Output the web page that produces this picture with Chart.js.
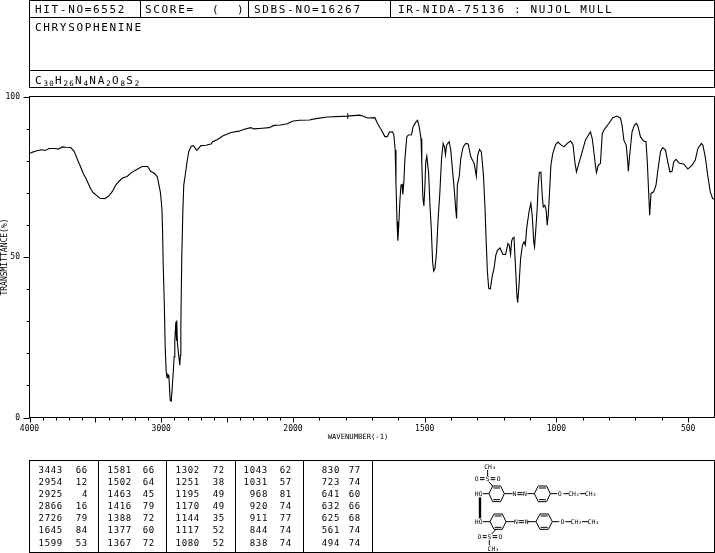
<!DOCTYPE html>
<html>
<head>
<meta charset="utf-8">
<title>CHRYSOPHENINE IR</title>
<script src="https://cdn.jsdelivr.net/npm/chart.js@4/dist/chart.umd.min.js"></script>
<style>
  html, body { margin: 0; padding: 0; background: #fff; overflow: hidden; }
  #page { position: relative; width: 715px; height: 553px; }
  #chart { position: absolute; left: 0; top: 0; }
  .t { position: absolute; white-space: pre; color: #000; line-height: 1;
       font-family: "DejaVu Sans Mono", monospace; font-size: 11px; letter-spacing: 1.66px; }
  .t sub { font-size: 7.5px; letter-spacing: 1.2px; vertical-align: baseline; position: relative; top: 2px; }
  .p { position: absolute; white-space: pre; color: #000; line-height: 1; text-align: right; width: 30px;
       font-family: "DejaVu Sans Mono", monospace; font-size: 9px; letter-spacing: 0.7px; }
  .r { position: absolute; background: #000; }
  #mol { position: absolute; left: 0; top: 0; }
  #mol text { font-family: "DejaVu Sans Mono", monospace; font-size: 19px; text-anchor: middle; dominant-baseline: central; }
  #mol path { fill: none; stroke: #000; stroke-width: 3; }
</style>
</head>
<body>
<div id="page">
  <canvas id="chart" width="715" height="553"></canvas>
  <div class="t" style="left:35px;top:4px">HIT-NO=6552</div>
  <div class="t" style="left:145px;top:4px">SCORE=</div>
  <div class="t" style="left:212px;top:4px">(</div>
  <div class="t" style="left:237px;top:4px">)</div>
  <div class="t" style="left:254px;top:4px">SDBS-NO=16267</div>
  <div class="t" style="left:398px;top:4px">IR-NIDA-75136 : NUJOL MULL</div>
  <div class="t" style="left:35px;top:22px">CHRYSOPHENINE</div>
  <div class="t" style="left:35px;top:75px;letter-spacing:1.9px">C<sub>30</sub>H<sub>26</sub>N<sub>4</sub>NA<sub>2</sub>O<sub>8</sub>S<sub>2</sub></div>
  <svg id="mol" width="715" height="553">
    <g transform="translate(370 450) scale(0.3333)">
      <path d="M357 131L368 108L392 108L403 131L392 155L368 155Z M370 114L390 114 M370 149L390 149"/>
      <path d="M493 131L505 108L530 108L541 131L530 155L505 155Z M507 114L528 114 M507 149L528 149"/>
      <path d="M360 215L372 192L397 192L408 215L397 238L372 238Z M374 198L395 198 M374 232L395 232"/>
      <path d="M498 215L510 192L535 192L547 215L535 238L510 238Z M512 198L533 198 M512 232L533 232"/>
      <path d="M403 131H428 M472 131H493 M541 131H562 M580 131H596 M630 131H648"/>
      <path d="M408 215H433 M472 215H498 M547 215H568 M586 215H604 M636 215H655"/>
      <path d="M442 128H458 M442 134H458 M446 212H462 M446 218H462"/>
      <path d="M339 131H357 M339 215H360"/>
      <path d="M353 60V78 M330 83H344 M330 89H344 M362 83H376 M362 89H376 M356 95L368 108"/>
      <path d="M378 238L365 252 M338 257H350 M338 263H350 M368 257H382 M368 263H382 M358 270V286"/>
      <path d="M330 142V205" style="stroke-width:7"/>
      <text x="360" y="50">CH₃</text>
      <text x="320" y="85">O</text><text x="353" y="85">S</text><text x="386" y="85">O</text>
      <text x="326" y="131">HO</text><text x="433" y="131">N</text><text x="465" y="131">N</text>
      <text x="570" y="131">O</text><text x="612" y="131">CH₂</text><text x="662" y="131">CH₃</text>
      <text x="326" y="215">HO</text><text x="438" y="215">N</text><text x="470" y="215">N</text>
      <text x="577" y="215">O</text><text x="619" y="215">CH₂</text><text x="670" y="215">CH₃</text>
      <text x="328" y="260">O</text><text x="358" y="260">S</text><text x="391" y="260">O</text>
      <text x="370" y="295">CH₃</text>
    </g>
  </svg>
</div>

<script>
'use strict';

// spectrum
const wavenumbers = [
  4000,3982,3945,3907,3882,3849,3806,3781,3751,3725,3688,3662,3650,3635,3617,3592,3572,3554,3534,3516,
  3491,3466,3428,3395,3370,3345,3320,3295,3259,3227,3189,3144,3103,3081,3050,3030,3018,3005,2995,2990,
  2985,2977,2970,2962,2955,2950,2942,2937,2932,2924,2917,2909,2902,2897,2889,2884,2882,2877,2867,2859,
  2854,2851,2844,2836,2829,2816,2804,2791,2773,2756,2730,2698,2660,2622,2610,2572,2534,2471,2408,2370,
  2320,2295,2232,2181,2144,2093,2043,2005,1976,1938,1913,1869,1793,1748,1735,1716,1689,1679,1666,1651,
  1642,1634,1622,1617,1612,1609,1605,1602,1599,1594,1590,1586,1583,1579,1575,1568,1562,1550,1544,1533,
  1527,1521,1514,1511,1507,1503,1499,1496,1492,1489,1485,1480,1475,1470,1466,1461,1455,1449,1443,1436,
  1430,1425,1421,1417,1412,1407,1401,1395,1388,1382,1379,1376,1369,1363,1354,1344,1335,1325,1312,1304,
  1299,1292,1285,1277,1271,1267,1262,1257,1251,1243,1237,1230,1224,1214,1203,1193,1184,1179,1174,1170,
  1166,1161,1155,1150,1147,1142,1136,1129,1123,1118,1113,1104,1097,1092,1086,1083,1078,1073,1069,1065,
  1059,1054,1050,1044,1039,1035,1031,1026,1021,1014,1003,994,984,971,959,946,937,930,924,915,
  902,890,871,864,858,852,848,841,833,826,816,801,786,770,757,751,744,735,730,727,
  722,713,704,696,690,681,669,660,655,650,646,641,631,622,614,605,597,586,576,569,
  561,555,546,533,517,501,485,473,463,450,444,435,425,416,407,400
];
const transmittance = [
  82.2,82.6,83.1,83.4,83.2,83.8,83.8,83.6,84.3,84.2,84.1,83.0,81.9,80.2,78.6,76.0,74.5,72.9,71.1,70.0,
  69.2,68.3,68.2,69.1,70.5,72.4,73.6,74.6,75.1,76.3,77.2,78.2,78.2,76.7,76.0,75.0,72.6,69.8,65.1,58.4,
  47.5,36.0,22.0,14.0,12.4,13.4,13.0,9.0,5.4,5.1,9.0,14.0,18.9,24.1,29.8,24.1,30.2,23.0,19.2,16.3,
  19.4,29.0,50.0,64.0,72.4,76.0,79.6,82.8,84.5,84.7,83.2,84.7,84.8,85.2,85.9,86.6,87.7,88.8,89.2,89.8,
  90.3,89.9,90.1,90.3,91.0,91.1,91.5,92.3,92.6,92.7,93.1,93.6,93.9,94.2,93.9,93.3,93.4,91.6,89.8,87.5,
  87.5,88.9,89.0,88.0,83.3,72.9,61.0,55.1,58.9,67.7,72.4,72.6,69.5,73.4,80.7,87.4,88.0,88.1,90.6,92.1,
  92.6,90.6,86.9,79.6,68.7,65.9,72.4,79.6,81.4,79.1,76.0,66.1,58.9,48.5,45.6,46.4,51.6,62.0,69.3,80.7,
  85.4,84.3,81.9,84.8,85.4,85.9,83.3,77.6,71.3,64.6,62.0,72.4,75.0,80.7,84.3,85.4,85.2,81.2,79.1,75.2,
  81.7,83.5,82.8,75.5,65.1,55.8,45.4,40.2,40.0,44.3,46.4,50.6,52.1,52.8,50.8,50.8,54.2,53.7,50.8,55.0,
  55.8,56.1,46.4,38.1,35.8,41.2,49.5,53.7,54.7,53.7,58.9,64.1,66.7,63.0,54.7,53.2,58.9,65.1,72.4,76.3,
  76.5,69.3,65.6,66.1,64.6,59.9,63.0,70.3,78.6,82.2,85.0,85.8,85.0,84.3,85.4,86.1,85.0,79.6,76.5,79.1,
  82.8,86.4,89.0,86.9,82.8,78.6,76.3,78.6,79.1,88.5,90.0,91.6,93.4,93.9,93.3,91.1,86.4,84.8,80.2,76.7,
  81.7,89.0,91.1,91.6,90.6,87.4,86.1,85.9,79.6,70.3,63.0,69.8,70.3,72.4,77.6,82.8,84.1,83.3,79.1,76.5,
  76.7,79.6,80.4,79.2,79.0,77.4,78.6,80.2,83.8,85.4,84.8,81.2,75.0,70.3,68.2,68.0
];
// the little + on the curve
const markerWave = [1792];
const markerTrans = [93.9];

const xMajorLabels = [4000, 3000, 2000, 1500, 1000, 500];
const yMajorLabels = [0, 50, 100];

// peak table, column by column
const peakWaves = [
  [3443,2954,2925,2866,2726,1645,1599],
  [1581,1502,1463,1416,1388,1377,1367],
  [1302,1251,1195,1170,1144,1117,1080],
  [1043,1031,968,920,911,844,838],
  [830,723,641,632,625,561,494]
];
const peakTrans = [
  [66,12,4,16,79,84,53],
  [66,64,45,79,72,60,72],
  [72,38,49,49,35,52,52],
  [62,57,81,74,77,74,74],
  [77,74,60,66,68,74,74]
];

const page = document.getElementById('page');

// rules of the header and table boxes
function rule(left, top, width, height){
  const el = document.createElement('div');
  el.className = 'r';
  el.style.cssText = `left:${left}px;top:${top}px;width:${width}px;height:${height}px`;
  page.appendChild(el);
}
rule(29, 0, 686, 1);
rule(29, 17, 686, 1);
rule(29, 70, 686, 1);
rule(29, 87, 686, 1);
rule(29, 0, 1, 88);
rule(714, 0, 1, 88);
[140, 248, 390].forEach(x => rule(x, 0, 1, 18));

rule(29, 460, 686, 1);
rule(29, 552, 686, 1);
rule(29, 460, 1, 93);
rule(714, 460, 1, 93);
[98, 166, 235, 303, 372].forEach(x => rule(x, 460, 1, 93));

// peak table text
const waveRight = [63, 132, 200, 268, 340];
const transRight = [88, 155, 225, 292, 361];
const rowCentre = [470, 482, 494, 506, 518, 530, 543];
function peakText(text, right, centre){
  const el = document.createElement('div');
  el.className = 'p';
  el.textContent = text;
  el.style.left = (right - 30) + 'px';
  el.style.top = (centre - 4.3) + 'px';
  page.appendChild(el);
}
for (let c = 0; c < peakWaves.length; c++){
  for (let r = 0; r < peakWaves[c].length; r++){
    peakText(peakWaves[c][r], waveRight[c], rowCentre[r]);
    peakText(peakTrans[c][r], transRight[c], rowCentre[r]);
  }
}

// wavenumber axis: below 2000 the paper runs at twice the scale
class WaveScale extends Chart.LinearScale {
  getPixelForValue(value){
    const units = value >= 2000 ? 4000 - value : 2000 + (2000 - value) * 2;
    return this.left + units / 5200 * this.width;
  }
  getValueForPixel(pixel){
    const units = (pixel - this.left) / this.width * 5200;
    return units <= 2000 ? 4000 - units : 2000 - (units - 2000) / 2;
  }
}
WaveScale.id = 'wave';
WaveScale.defaults = Chart.LinearScale.defaults;
Chart.register(WaveScale);

const monoFont = { family: '"DejaVu Sans Mono", monospace', size: 8 };

// frame, tick marks of two lengths and the off-centre x title
const framePlugin = {
  id: 'frame',
  afterDraw(chart){
    const { ctx, chartArea: a, scales } = chart;
    ctx.save();
    ctx.strokeStyle = '#000';
    ctx.lineWidth = 1;
    ctx.strokeRect(a.left, a.top, a.right - a.left, a.bottom - a.top);
    ctx.beginPath();
    scales.x.ticks.forEach(t => {
      const px = Math.round(scales.x.getPixelForValue(t.value)) + 0.5;
      ctx.moveTo(px, a.bottom);
      ctx.lineTo(px, a.bottom + (t.value % 500 === 0 ? 5 : 3));
    });
    scales.y.ticks.forEach(t => {
      const py = Math.round(scales.y.getPixelForValue(t.value)) + 0.5;
      ctx.moveTo(a.left, py);
      ctx.lineTo(a.left - (t.value % 50 === 0 ? 6 : 3), py);
    });
    ctx.stroke();
    ctx.fillStyle = '#000';
    ctx.font = '7.2px "DejaVu Sans Mono", monospace';
    ctx.textAlign = 'center';
    ctx.textBaseline = 'middle';
    ctx.fillText('WAVENUMBER(-1)', 358, 437);
    ctx.restore();
  }
};

new Chart(document.getElementById('chart'), {
  type: 'line',
  data: {
    datasets: [
      {
        data: wavenumbers.map((w, i) => ({ x: w, y: transmittance[i] })),
        borderColor: '#000',
        borderWidth: 1.1,
        pointRadius: 0,
        tension: 0
      },
      {
        data: markerWave.map((w, i) => ({ x: w, y: markerTrans[i] })),
        showLine: false,
        pointStyle: 'line',
        rotation: 90,
        pointRadius: 3,
        borderColor: '#000',
        borderWidth: 1
      }
    ]
  },
  options: {
    responsive: false,
    animation: false,
    devicePixelRatio: 1,
    layout: { autoPadding: false, padding: { left: 0, top: 96.5, right: 0.5, bottom: 0 } },
    plugins: { legend: { display: false }, tooltip: { enabled: false } },
    scales: {
      x: {
        type: 'wave',
        min: 400,
        max: 4000,
        grid: { display: false, drawTicks: false },
        border: { display: false },
        afterBuildTicks(scale){
          const ticks = [];
          for (let v = 4000; v >= 500; v -= 100){
            ticks.push({ value: v });
          }
          scale.ticks = ticks;
        },
        afterFit(scale){ scale.height = 135.5; },
        ticks: {
          autoSkip: false,
          maxRotation: 0,
          padding: 7,
          color: '#000',
          font: monoFont,
          callback: v => xMajorLabels.includes(v) ? String(v) : ''
        }
      },
      y: {
        min: 0,
        max: 100,
        grid: { display: false, drawTicks: false },
        border: { display: false },
        afterFit(scale){
          scale.width = 29.5;
          scale.paddingTop = 0;
          scale.paddingBottom = 0;
        },
        title: {
          display: true,
          text: 'TRANSMITTANCE(%)',
          color: '#000',
          font: monoFont,
          padding: { top: 0, bottom: 0 }
        },
        ticks: {
          stepSize: 10,
          padding: 9.5,
          color: '#000',
          font: monoFont,
          callback: v => yMajorLabels.includes(v) ? String(v) : ''
        }
      }
    }
  },
  plugins: [framePlugin]
});
</script>
</body>
</html>
